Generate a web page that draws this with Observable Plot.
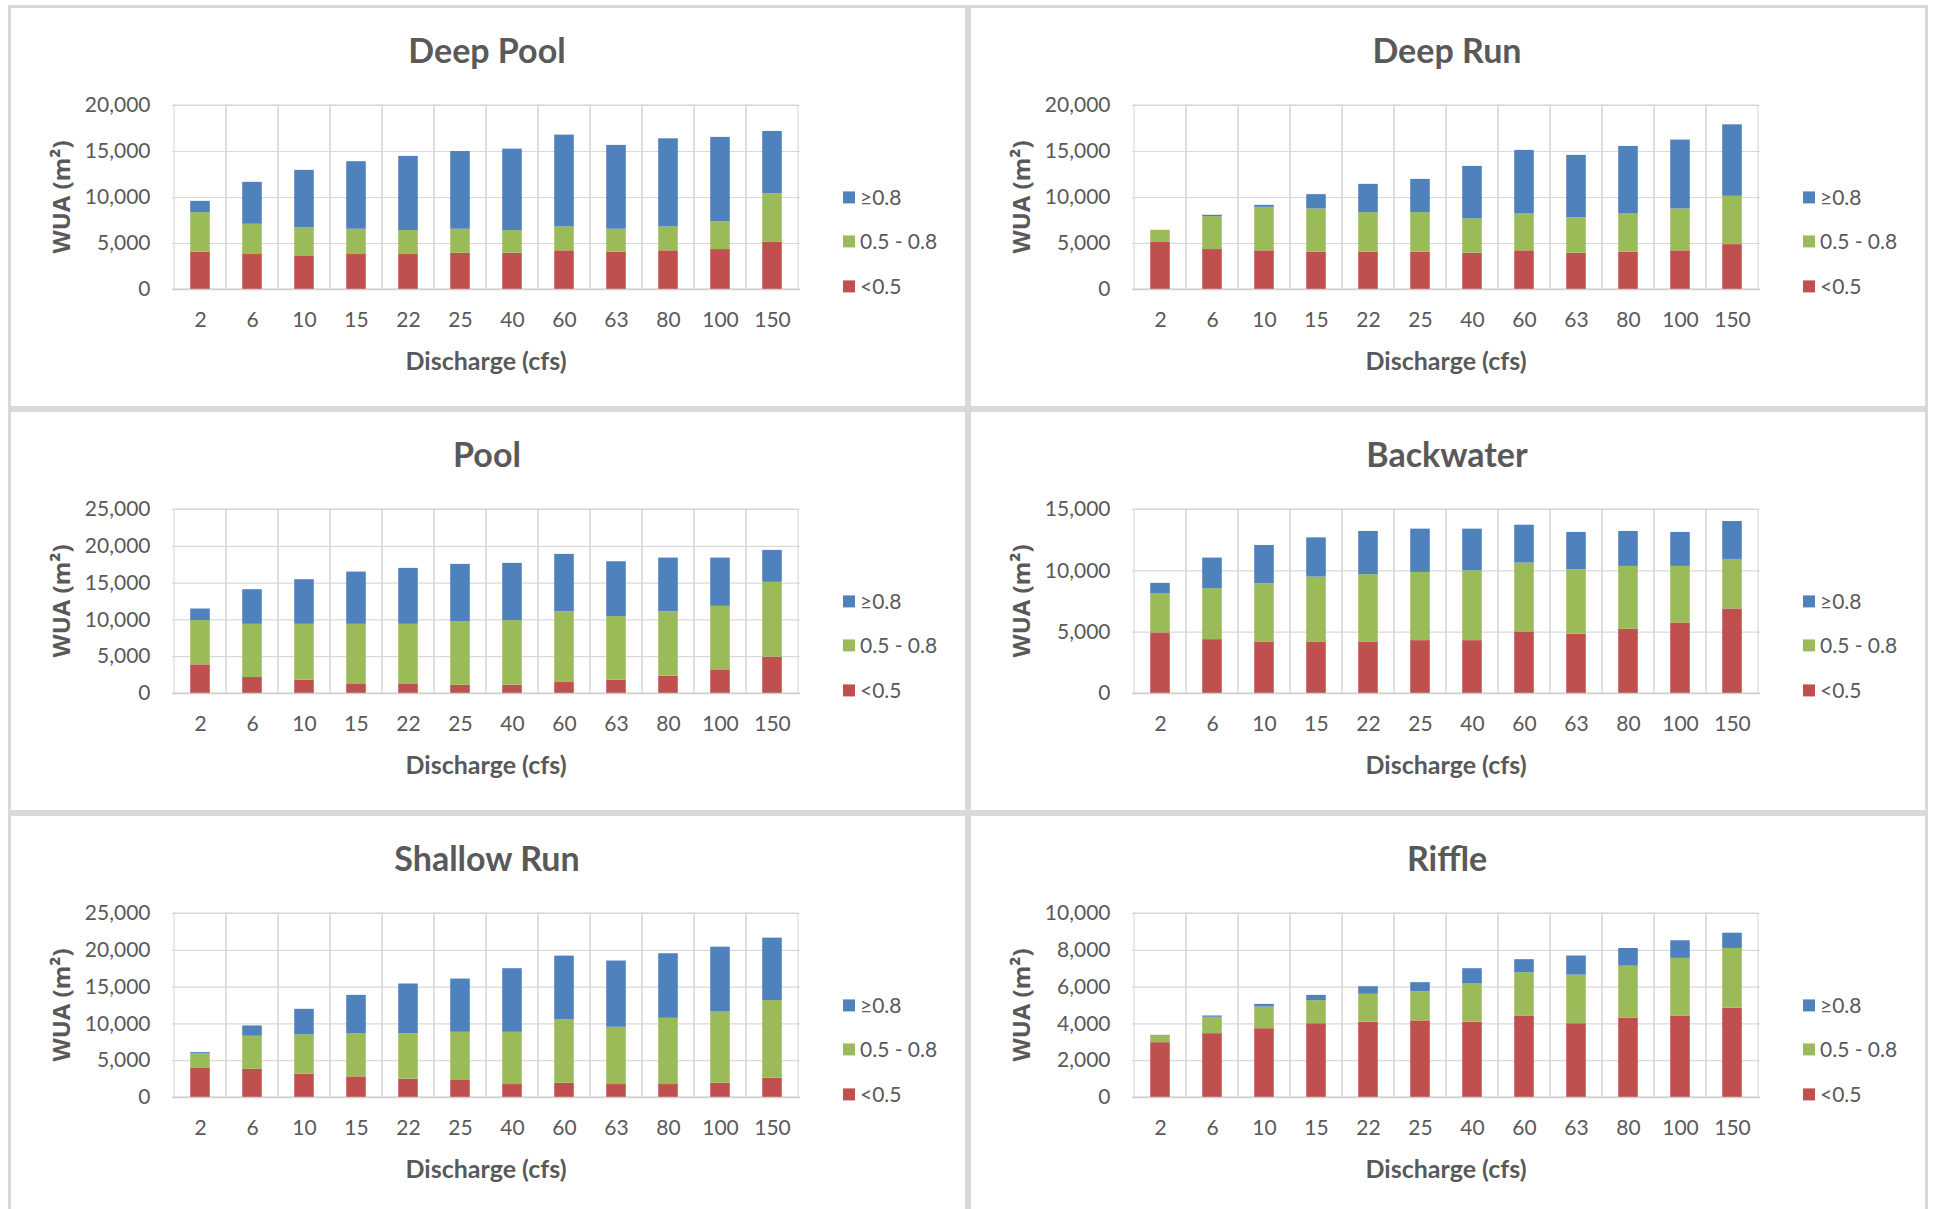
<!DOCTYPE html>
<html><head><meta charset="utf-8">
<script src="https://cdn.jsdelivr.net/npm/d3@7"></script>
<script src="https://cdn.jsdelivr.net/npm/@observablehq/plot@0.6"></script>
<style>
html,body{margin:0;padding:0;background:#fff;}
#root{position:relative;width:1933px;height:1209px;overflow:hidden;background:#fff;}
.panel{position:absolute;box-sizing:border-box;width:960px;height:404px;border:3px solid #d9d9d9;background:#fff;}
.title{position:absolute;left:476px;top:42px;transform:translate(-50%,-50%);font:700 34px Lato, sans-serif;color:#595959;white-space:nowrap;line-height:1.2;}
.ylab{position:absolute;left:50px;top:189px;transform:translate(-50%,-50%) rotate(-90deg);font:700 24px "Open Sans", sans-serif;color:#595959;white-space:nowrap;line-height:1.2;}
.xlab{position:absolute;left:475px;top:352px;transform:translate(-50%,-50%);font:700 25px Lato, sans-serif;color:#595959;white-space:nowrap;line-height:1.2;}
.chart{position:absolute;left:0;top:80px;}
.legend{position:absolute;left:832px;top:0;}
.li{position:absolute;left:0;display:flex;align-items:center;transform:translateY(-50%);font:400 21px Lato, sans-serif;color:#595959;white-space:nowrap;line-height:1.2;}
.sw{width:12px;height:12px;margin-right:5px;display:inline-block;}
</style>
</head><body><div id="root"></div>
<script>
// ---- data ----
const discharge = ["2","6","10","15","22","25","40","60","63","80","100","150"];
const classes = ["<0.5", "0.5 - 0.8", "≥0.8"];
const classColors = ["#C0504D", "#9BBB59", "#4F81BD"];
const panelNames = ["Deep Pool", "Deep Run", "Pool", "Backwater", "Shallow Run", "Riffle"];
const yMaxes = [20000, 20000, 25000, 15000, 25000, 10000];
const ySteps = [5000, 5000, 5000, 5000, 5000, 2000];

const deepPoolLow  = [4050, 3800, 3650, 3800, 3800, 3940, 3940, 4200, 4050, 4200, 4340, 5170];
const deepPoolMid  = [4300, 3290, 3040, 2750, 2600, 2610, 2460, 2600, 2500, 2600, 3040, 5250];
const deepPoolHigh = [1230, 4560, 6260, 7340, 8070, 8450, 8860, 9980, 9110, 9580, 9150, 6760];

const deepRunLow  = [5170, 4340, 4200, 4050, 4050, 4050, 3940, 4200, 3940, 4050, 4200, 4880];
const deepRunMid  = [1270, 3580, 4730, 4700, 4300, 4300, 3730, 4010, 3840, 4160, 4550, 5250];
const deepRunHigh = [0, 150, 220, 1560, 3080, 3620, 5710, 6910, 6800, 7340, 7490, 7770];

const poolLow  = [3890, 2170, 1810, 1310, 1310, 1130, 1130, 1490, 1810, 2350, 3210, 4930];
const poolMid  = [6010, 7230, 7590, 8090, 8090, 8590, 8770, 9630, 8630, 8770, 8630, 10170];
const poolHigh = [1580, 4700, 6060, 7100, 7600, 7820, 7780, 7780, 7460, 7280, 6560, 4340];

const backwaterLow  = [4940, 4390, 4200, 4200, 4200, 4310, 4310, 5020, 4830, 5230, 5750, 6890];
const backwaterMid  = [3170, 4150, 4750, 5290, 5480, 5560, 5690, 5610, 5260, 5130, 4610, 4040];
const backwaterHigh = [870, 2500, 3120, 3200, 3530, 3530, 3400, 3090, 3040, 2850, 2770, 3090];

const shallowRunLow  = [4020, 3840, 3160, 2800, 2490, 2310, 1760, 1940, 1760, 1760, 1940, 2620];
const shallowRunMid  = [1900, 4480, 5340, 5880, 6190, 6550, 7100, 8640, 7780, 9000, 9680, 10540];
const shallowRunHigh = [180, 1400, 3480, 5200, 6740, 7230, 8640, 8630, 9000, 8770, 8810, 8490];

const riffleLow  = [2980, 3470, 3740, 4010, 4090, 4160, 4090, 4430, 4010, 4300, 4430, 4850];
const riffleMid  = [400, 890, 1180, 1250, 1520, 1590, 2080, 2350, 2640, 2840, 3130, 3250];
const riffleHigh = [0, 70, 140, 290, 410, 490, 830, 710, 1040, 960, 960, 830];

const panelSeries = [
  [deepPoolLow, deepPoolMid, deepPoolHigh],
  [deepRunLow, deepRunMid, deepRunHigh],
  [poolLow, poolMid, poolHigh],
  [backwaterLow, backwaterMid, backwaterHigh],
  [shallowRunLow, shallowRunMid, shallowRunHigh],
  [riffleLow, riffleMid, riffleHigh]
];

// ---- layout ----
const root = document.getElementById("root");
const W = 800, H = 316, mL = 161, mR = 11, mT = 17, mB = 115;
const legendY = [278, 233, 189];

panelNames.forEach((name, i) => {
  const col = i % 2, row = Math.floor(i / 2);
  const panel = document.createElement("div");
  panel.className = "panel";
  panel.style.left = (8 + 960 * col) + "px";
  panel.style.top = (5 + 404 * row) + "px";
  root.appendChild(panel);

  const t = document.createElement("div"); t.className = "title"; t.textContent = name; panel.appendChild(t);
  const yl = document.createElement("div"); yl.className = "ylab"; yl.innerHTML = "WUA (m²)"; panel.appendChild(yl);
  const xl = document.createElement("div"); xl.className = "xlab"; xl.textContent = "Discharge (cfs)"; panel.appendChild(xl);

  const yMax = yMaxes[i];
  const ticks = d3.range(0, yMax + 1, ySteps[i]);
  const rows = discharge.flatMap((q, j) => panelSeries[i].map((arr, k) => ({q, cls: classes[k], value: arr[j]})));
  const step = (W - mL - mR) / discharge.length;
  const inset = step * 0.31;

  const chart = Plot.plot({
    width: W, height: H, marginLeft: mL, marginRight: mR, marginTop: mT, marginBottom: mB,
    style: {fontFamily: "Lato, sans-serif", fontSize: "21px", color: "#595959", background: "transparent", overflow: "visible"},
    x: {domain: discharge, padding: 0, label: null},
    y: {domain: [0, yMax], label: null},
    color: {domain: classes, range: classColors},
    marks: [
      Plot.gridY({ticks, stroke: "#d9d9d9", strokeOpacity: 1, strokeWidth: 1.2}),
      Plot.barY(discharge, {x: d => d, y1: 0, y2: yMax, fill: "none", stroke: "#d9d9d9", strokeWidth: 1.2}),
      Plot.barY(rows, {x: "q", y: "value", fill: "cls", insetLeft: inset, insetRight: inset}),
      Plot.ruleY([0], {stroke: "#d0d0d0", strokeWidth: 1.5}),
      Plot.axisY({ticks, tickFormat: d3.format(","), tickSize: 0, tickPadding: 22, label: null}),
      Plot.axisX({tickSize: 0, tickPadding: 23, label: null})
    ]
  });
  chart.classList.add("chart");
  panel.appendChild(chart);

  const lg = document.createElement("div"); lg.className = "legend";
  classes.forEach((c, k) => {
    const li = document.createElement("div"); li.className = "li";
    li.style.top = legendY[k] + "px";
    const sw = document.createElement("span"); sw.className = "sw"; sw.style.background = classColors[k];
    li.appendChild(sw);
    li.appendChild(document.createTextNode(c));
    lg.appendChild(li);
  });
  panel.appendChild(lg);
});
</script>
</body></html>
